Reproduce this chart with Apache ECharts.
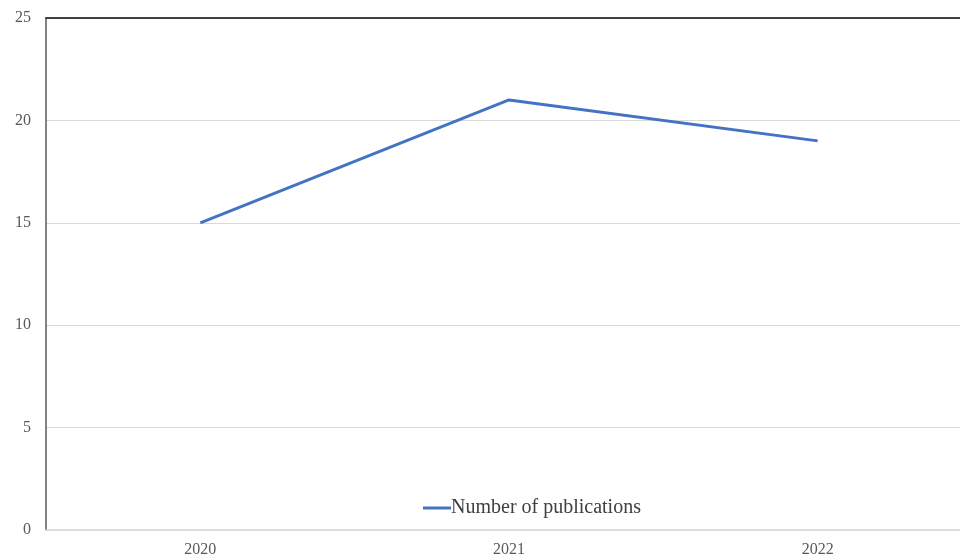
<!DOCTYPE html>
<html><head><meta charset="utf-8">
<script src="https://cdn.jsdelivr.net/npm/echarts@6/dist/echarts.min.js"></script>
<style>html,body{margin:0;padding:0;background:#fff;overflow:hidden;width:960px;height:558px}#c{width:972px;height:558px}</style>
</head><body><div id="c"></div>
<script>
const categories = ['2020', '2021', '2022'];
const publications = [15, 21, 19];
const yTicks = [0, 5, 10, 15, 20, 25];
const seriesName = 'Number of publications';

const chart = echarts.init(document.getElementById('c'), null, {renderer: 'canvas'});
const font = '"Liberation Serif", "Times New Roman", serif';
chart.setOption({
  animation: false,
  backgroundColor: '#ffffff',
  grid: {left: 46, top: 18, right: 0, bottom: 28, containLabel: false},
  legend: {
    data: [seriesName], left: 418, top: 493,
    itemWidth: 28, itemHeight: 3, itemGap: 10,
    icon: 'rect',
    textStyle: {fontFamily: font, fontSize: 20, color: '#404040', padding: [0,0,0,-5]}
  },
  xAxis: [{
    type: 'category', data: categories, boundaryGap: true,
    axisLine: {show: true, lineStyle: {color: '#d9d9d9', width: 1.5}},
    axisTick: {show: false},
    axisLabel: {fontFamily: font, fontSize: 16, color: '#595959', margin: 12}
  }, {
    type: 'category', data: categories, position: 'top', boundaryGap: true,
    axisLine: {show: true, lineStyle: {color: '#404040', width: 2}},
    axisTick: {show: false}, axisLabel: {show: false}
  }],
  yAxis: {
    type: 'value', min: yTicks[0], max: yTicks[yTicks.length - 1], interval: 5,
    axisLine: {show: true, lineStyle: {color: '#595959', width: 1.5}},
    axisTick: {show: false},
    axisLabel: {fontFamily: font, fontSize: 16, color: '#595959', margin: 15},
    splitLine: {show: true, lineStyle: {color: '#d9d9d9', width: 1}}
  },
  series: [{
    name: seriesName, type: 'line', data: publications,
    symbol: 'none', showSymbol: false,
    lineStyle: {color: '#4472c4', width: 3},
    itemStyle: {color: '#4472c4'}
  }]
});
</script></body></html>
